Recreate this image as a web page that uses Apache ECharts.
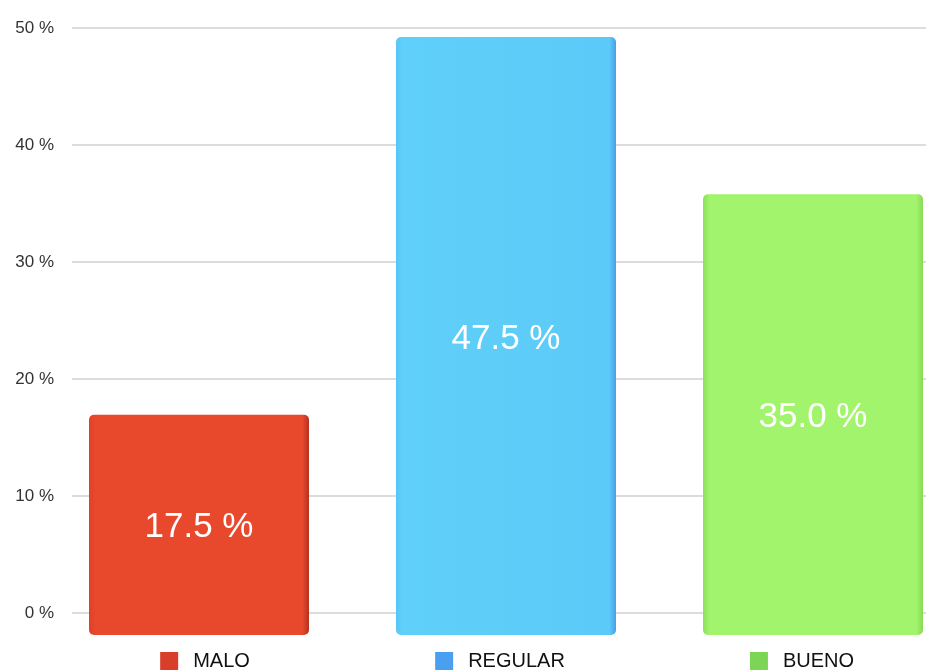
<!DOCTYPE html>
<html>
<head>
<meta charset="utf-8">
<script src="https://cdn.jsdelivr.net/npm/echarts@6/dist/echarts.min.js"></script>
<style>html,body{margin:0;padding:0;background:#fff}#c{width:926px;height:671px}</style>
</head>
<body>
<div id="c"></div>
<script>
const categories = ['MALO', 'REGULAR', 'BUENO'];
const values = [17.5, 47.5, 35.0];
const yTicks = [0, 10, 20, 30, 40, 50];
const legendColors = ['#D93E2B', '#4A9FF0', '#7DD555'];
const barStops = [
  ['#E04028', '#E8492D', '#E8492D', '#B5321E'],
  ['#58C6F6', '#5FD0F9', '#5CCAF8', '#4A9CEA'],
  ['#8CE05A', '#A1F46B', '#A1F46B', '#88D955']
];

const chart = echarts.init(document.getElementById('c'), null, {renderer: 'canvas'});
const fontFam = '"Liberation Sans", Arial, Helvetica, sans-serif';
const keys = ['a', 'b', 'c'];
const textPadRight = [0, 24, 34];
const rich = {};
keys.forEach((k, i) => {
  rich[k] = { width: 18, height: 18, backgroundColor: legendColors[i] };
  rich['t' + k] = { fontSize: 20, color: '#111', fontFamily: fontFam, padding: [0, textPadRight[i], 0, 15] };
});

chart.setOption({
  animation: false,
  grid: [
    { left: 72, right: 0, top: 28, bottom: 58 },
    { left: 199, right: 113, top: 37, bottom: 36 }
  ],
  xAxis: [
    { gridIndex: 0, type: 'category', data: categories, show: false },
    {
      gridIndex: 1, type: 'category', data: categories, boundaryGap: false,
      axisLine: { show: false }, axisTick: { show: false },
      axisLabel: {
        margin: 16,
        padding: [0, 0, 0, 12],
        formatter: (v, i) => '{' + keys[i] + '|}{t' + keys[i] + '|' + v + '}',
        rich: rich
      }
    }
  ],
  yAxis: [
    {
      gridIndex: 0, type: 'value', min: yTicks[0], max: yTicks[yTicks.length - 1], interval: 10,
      axisLine: { show: false }, axisTick: { show: false },
      axisLabel: { formatter: '{value} %', fontSize: 17, color: '#333', fontFamily: fontFam, margin: 18 },
      splitLine: { lineStyle: { color: '#dcdcdc', width: 2 } }
    },
    {
      gridIndex: 1, type: 'value', min: 0, max: Math.max(...values), show: false
    }
  ],
  series: [{
    type: 'bar',
    xAxisIndex: 1, yAxisIndex: 1,
    barWidth: 220,
    clip: false,
    data: values.map((v, i) => ({
      value: v,
      itemStyle: {
        borderRadius: 5,
        color: {
          type: 'linear', x: 0, y: 0, x2: 1, y2: 0,
          colorStops: [
            { offset: 0, color: barStops[i][0] },
            { offset: 0.03, color: barStops[i][1] },
            { offset: 0.97, color: barStops[i][2] },
            { offset: 1, color: barStops[i][3] }
          ]
        }
      }
    })),
    label: {
      show: true, position: 'inside', color: '#fff', fontSize: 35,
      fontFamily: fontFam, offset: [0, 3],
      formatter: p => p.value.toFixed(1) + ' %'
    }
  }]
});
</script>
</body>
</html>
